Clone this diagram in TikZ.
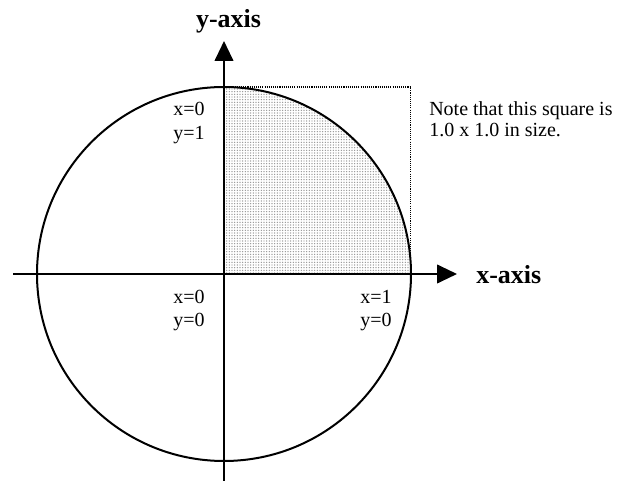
\documentclass[tikz,border=0pt]{standalone}
\usepackage{fontspec}
\setmainfont{Liberation Serif}
\usetikzlibrary{arrows.meta,patterns.meta}
\begin{document}
\begin{tikzpicture}[x=0.75pt,y=-0.75pt,
  axis/.style={line width=1.5pt,-{Triangle[length=15pt,width=14pt]}},
  ring/.style={line width=1.5pt},
  sqdot/.style={line width=0.9pt,dash pattern=on 0.8pt off 0.8pt,black},
  lbl/.style={inner sep=0pt,anchor=base west,font=\fontsize{15}{18}\selectfont},
  axlbl/.style={inner sep=0pt,anchor=base west,font=\fontsize{19.5}{23}\selectfont\bfseries}]
\useasboundingbox (0,0) rectangle (619,481);
% key points
\coordinate (O) at (224,274);
\coordinate (T) at (224,87);
\coordinate (TR) at (410.5,87);
\coordinate (R) at (410.5,274);
\coordinate (xl) at (13,274);
\coordinate (xr) at (457,274);
\coordinate (yb) at (224,481);
\coordinate (yt) at (224,41);
% shaded quarter disc
\begin{scope}
  \clip (T) rectangle (R);
  \fill[pattern={Dots[distance=2pt,radius=0.55pt]},pattern color=gray!85] (O) circle[radius=187];
\end{scope}
% dotted square
\draw[sqdot] (T) -- (TR) -- (R);
% circle
\draw[ring] (O) circle[radius=187];
% axes
\draw[axis] (xl) -- (xr);
\draw[axis] (yb) -- (yt);
% labels
\node[axlbl,anchor=base] (ylab) at (228.5,28) {y-axis};
\node[axlbl] (xlab) at (476,284) {x-axis};
\node[lbl] (a1) at (173,116) {x=0};
\node[lbl] (a2) at (173,139.5) {y=1};
\node[lbl] (b1) at (173,303.3) {x=0};
\node[lbl] (b2) at (173,326.7) {y=0};
\node[lbl] (c1) at (360,303.3) {x=1};
\node[lbl] (c2) at (360,326.7) {y=0};
\node[lbl] (n1) at (429,116) {Note that this square is};
\node[lbl] (n2) at (429,137) {1.0 x 1.0 in size.};
\end{tikzpicture}
\end{document}
